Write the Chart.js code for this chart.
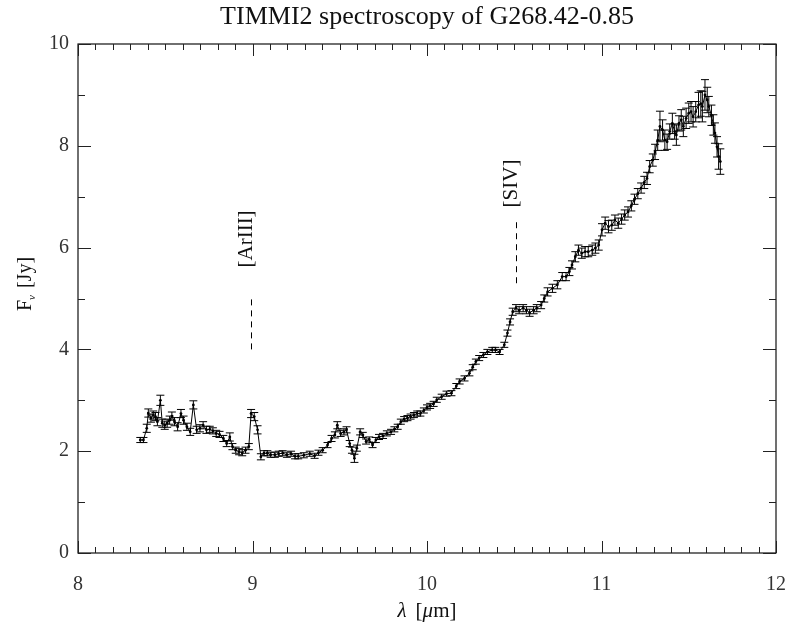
<!DOCTYPE html>
<html><head><meta charset="utf-8">
<script src="https://cdn.jsdelivr.net/npm/chart.js@4.4.1/dist/chart.umd.min.js"></script>
<style>html,body{margin:0;padding:0;background:#fff}#wrap{width:806px;height:628px}</style>
</head><body><div id="wrap"><canvas id="c" width="806" height="628"></canvas></div>
<script>
const wavelength=[8.357,8.375,8.394,8.403,8.418,8.431,8.444,8.455,8.472,8.483,8.497,8.511,8.525,8.538,8.553,8.571,8.590,8.605,8.624,8.643,8.661,8.680,8.699,8.717,8.736,8.755,8.773,8.792,8.811,8.833,8.852,8.870,8.885,8.904,8.923,8.941,8.960,8.979,8.992,9.010,9.029,9.048,9.066,9.085,9.104,9.128,9.150,9.173,9.197,9.221,9.244,9.262,9.294,9.328,9.356,9.378,9.402,9.430,9.453,9.472,9.486,9.505,9.524,9.539,9.557,9.570,9.584,9.598,9.617,9.632,9.651,9.669,9.688,9.707,9.725,9.748,9.770,9.794,9.813,9.832,9.850,9.869,9.888,9.906,9.925,9.944,9.962,9.982,10.000,10.018,10.038,10.056,10.084,10.112,10.140,10.168,10.187,10.215,10.243,10.262,10.280,10.299,10.323,10.346,10.374,10.392,10.416,10.443,10.461,10.476,10.491,10.510,10.528,10.551,10.570,10.588,10.611,10.629,10.654,10.672,10.691,10.719,10.747,10.775,10.797,10.816,10.831,10.850,10.868,10.887,10.906,10.924,10.947,10.965,10.984,11.003,11.021,11.040,11.059,11.077,11.096,11.115,11.133,11.152,11.171,11.189,11.208,11.227,11.245,11.261,11.276,11.294,11.307,11.322,11.335,11.350,11.363,11.376,11.391,11.406,11.419,11.429,11.444,11.457,11.469,11.485,11.500,11.513,11.525,11.540,11.556,11.569,11.578,11.593,11.606,11.615,11.630,11.641,11.650,11.662,11.671,11.681];
const flux=[2.22,2.22,2.45,2.75,2.65,2.71,2.68,2.58,3.00,2.55,2.51,2.55,2.61,2.69,2.58,2.48,2.74,2.61,2.48,2.38,2.91,2.42,2.45,2.51,2.42,2.43,2.40,2.35,2.33,2.25,2.15,2.28,2.09,2.02,1.99,1.97,2.02,2.09,2.74,2.68,2.42,1.89,1.96,1.96,1.93,1.93,1.95,1.96,1.93,1.95,1.90,1.90,1.92,1.95,1.91,1.97,2.02,2.12,2.25,2.32,2.51,2.35,2.38,2.42,2.15,2.02,1.86,2.06,2.38,2.32,2.19,2.23,2.12,2.22,2.28,2.30,2.35,2.38,2.43,2.48,2.58,2.63,2.65,2.68,2.71,2.74,2.74,2.80,2.86,2.89,2.93,3.01,3.07,3.13,3.14,3.28,3.37,3.43,3.53,3.65,3.76,3.83,3.89,3.95,3.99,3.99,3.95,4.09,4.32,4.54,4.74,4.81,4.77,4.81,4.77,4.72,4.77,4.81,4.87,5.00,5.13,5.20,5.27,5.43,5.43,5.53,5.66,5.82,5.95,5.89,5.92,5.92,5.95,5.99,6.05,6.35,6.48,6.41,6.44,6.54,6.48,6.56,6.64,6.70,6.82,6.95,7.06,7.17,7.28,7.36,7.59,7.72,7.88,8.11,8.38,8.31,8.11,8.08,8.28,8.44,8.28,8.21,8.44,8.51,8.38,8.54,8.64,8.67,8.57,8.67,8.80,8.83,8.77,9.00,8.90,8.77,8.60,8.41,8.25,7.98,7.79,7.69];
const fluxErr=[0.05,0.05,0.08,0.08,0.08,0.08,0.08,0.08,0.10,0.08,0.08,0.08,0.08,0.08,0.08,0.08,0.08,0.08,0.07,0.07,0.08,0.07,0.07,0.07,0.07,0.06,0.06,0.06,0.06,0.06,0.06,0.08,0.06,0.06,0.06,0.06,0.06,0.06,0.08,0.08,0.08,0.06,0.05,0.05,0.05,0.05,0.05,0.05,0.05,0.05,0.05,0.05,0.05,0.05,0.05,0.05,0.05,0.05,0.06,0.06,0.07,0.06,0.06,0.06,0.06,0.06,0.08,0.06,0.06,0.05,0.05,0.05,0.05,0.05,0.05,0.05,0.05,0.05,0.05,0.05,0.05,0.05,0.05,0.05,0.05,0.05,0.05,0.05,0.05,0.05,0.05,0.05,0.05,0.05,0.05,0.05,0.05,0.05,0.05,0.05,0.05,0.05,0.05,0.05,0.05,0.05,0.05,0.05,0.06,0.06,0.07,0.07,0.07,0.07,0.07,0.07,0.07,0.07,0.07,0.07,0.08,0.08,0.08,0.08,0.08,0.08,0.08,0.10,0.10,0.10,0.10,0.10,0.10,0.10,0.10,0.12,0.12,0.12,0.10,0.10,0.10,0.10,0.10,0.10,0.10,0.10,0.10,0.10,0.12,0.12,0.12,0.12,0.15,0.20,0.30,0.20,0.20,0.15,0.15,0.20,0.15,0.20,0.15,0.20,0.20,0.20,0.20,0.20,0.20,0.20,0.25,0.25,0.30,0.30,0.25,0.20,0.20,0.20,0.20,0.20,0.25,0.25];
const xTickLabels=['8','9','10','11','12'];
const yTickLabels=['0','2','4','6','8','10'];
const lineLabels=['[ArIII]','[SIV]'];
const lineWavelength=[8.99,10.51];
const lineDashFrom=[4.0,5.3];
const lineDashTo=[5.0,6.5];
const lineTextAt=[6.17,7.26];

const SERIF='"Liberation Serif","DejaVu Serif",serif';

function drawSegments(ctx,segs,x,y,align){
  let total=0;
  segs.forEach(s=>{ctx.font=s.font;total+=ctx.measureText(s.t).width+(s.dx||0);});
  let cx = align==='center'? x-total/2 : x;
  segs.forEach(s=>{ctx.font=s.font;ctx.fillText(s.t,cx+(s.dx||0),y+(s.dy||0));cx+=ctx.measureText(s.t).width+(s.dx||0);});
}

const deco={
  id:'deco',
  afterDatasetsDraw(chart){
    const {ctx,scales:{x,y}}=chart;
    ctx.save();
    ctx.strokeStyle='#000';ctx.lineWidth=1;
    for(let i=0;i<wavelength.length;i++){
      const px=x.getPixelForValue(wavelength[i]);
      const y1=y.getPixelForValue(flux[i]-fluxErr[i]);
      const y2=y.getPixelForValue(flux[i]+fluxErr[i]);
      ctx.beginPath();
      ctx.moveTo(px,y1);ctx.lineTo(px,y2);
      ctx.moveTo(px-4,y1);ctx.lineTo(px+4,y1);
      ctx.moveTo(px-4,y2);ctx.lineTo(px+4,y2);
      ctx.stroke();
    }
    ctx.restore();
  },
  afterDraw(chart){
    const {ctx,chartArea:a,scales:{x,y}}=chart;
    ctx.save();
    ctx.strokeStyle='#111';ctx.lineWidth=1.2;
    ctx.strokeRect(a.left,a.top,a.right-a.left,a.bottom-a.top);
    ctx.lineWidth=1;ctx.strokeStyle='#222';
    ctx.beginPath();
    for(let k=0;k<=40;k++){
      const v=8+k*0.1;const px=Math.round(x.getPixelForValue(v))+0.5;
      const len=(k%10===0)?12:6;
      ctx.moveTo(px,a.bottom);ctx.lineTo(px,a.bottom-len);
      ctx.moveTo(px,a.top);ctx.lineTo(px,a.top+len);
    }
    for(let k=0;k<=10;k++){
      const py=Math.round(y.getPixelForValue(k))+0.5;
      const len=(k%2===0)?13:7;
      ctx.moveTo(a.left,py);ctx.lineTo(a.left+len,py);
      ctx.moveTo(a.right,py);ctx.lineTo(a.right-len,py);
    }
    ctx.stroke();
    ctx.strokeStyle='#000';ctx.setLineDash([6,5]);
    for(let i=0;i<lineLabels.length;i++){
      const px=Math.round(x.getPixelForValue(lineWavelength[i]))+0.5;
      ctx.beginPath();
      ctx.moveTo(px,y.getPixelForValue(lineDashFrom[i]));
      ctx.lineTo(px,y.getPixelForValue(lineDashTo[i]));
      ctx.stroke();
    }
    ctx.setLineDash([]);
    ctx.fillStyle='#111';
    for(let i=0;i<lineLabels.length;i++){
      const px=x.getPixelForValue(lineWavelength[i]);
      const py=y.getPixelForValue(lineTextAt[i]);
      ctx.save();ctx.translate(px+1,py);ctx.rotate(-Math.PI/2);
      ctx.font='21px '+SERIF;ctx.textAlign='center';ctx.textBaseline='alphabetic';
      ctx.fillText(lineLabels[i],0,0);
      ctx.restore();
    }
    ctx.fillStyle='#111';ctx.textBaseline='alphabetic';ctx.textAlign='left';
    drawSegments(ctx,[{t:'TIMMI2 spectroscopy of G268.42-0.85',font:'26px '+SERIF}],(a.left+a.right)/2,24,'center');
    drawSegments(ctx,[
      {t:'\u03bb',font:'italic 21px '+SERIF},
      {t:'[',font:'21px '+SERIF,dx:9},
      {t:'\u03bc',font:'italic 21px '+SERIF},
      {t:'m]',font:'21px '+SERIF}
    ],(a.left+a.right)/2,617,'center');
    ctx.save();ctx.translate(31,284);ctx.rotate(-Math.PI/2);
    drawSegments(ctx,[
      {t:'F',font:'20px '+SERIF},
      {t:'\u03bd',font:'italic 11px '+SERIF,dy:4},
      {t:'[Jy]',font:'20px '+SERIF,dx:7}
    ],0,0,'center');
    ctx.restore();
    ctx.restore();
  }
};

new Chart(document.getElementById('c').getContext('2d'),{
  type:'scatter',
  data:{datasets:[{
    data:wavelength.map((w,i)=>({x:w,y:flux[i]})),
    showLine:true,borderColor:'#000',borderWidth:1,
    pointRadius:1.4,pointBackgroundColor:'#000',pointBorderWidth:0,tension:0
  }]},
  options:{
    responsive:false,animation:false,
    layout:{padding:{left:0,right:14,top:44,bottom:0}},
    plugins:{legend:{display:false},tooltip:{enabled:false},title:{display:false}},
    scales:{
      x:{type:'linear',min:8,max:12,
        grid:{display:false,drawTicks:false},border:{display:false},
        ticks:{stepSize:1,padding:20,color:'#333',font:{family:SERIF,size:20},
          callback:(v,i)=>xTickLabels[i]},
        afterFit(s){s.height=75;}},
      y:{type:'linear',min:0,max:10,
        grid:{display:false,drawTicks:false},border:{display:false},
        ticks:{stepSize:2,padding:9,color:'#333',font:{family:SERIF,size:20},
          callback:(v,i)=>yTickLabels[i]},
        afterFit(s){s.width=78;}}
    }
  },
  plugins:[deco]
});
</script></body></html>
